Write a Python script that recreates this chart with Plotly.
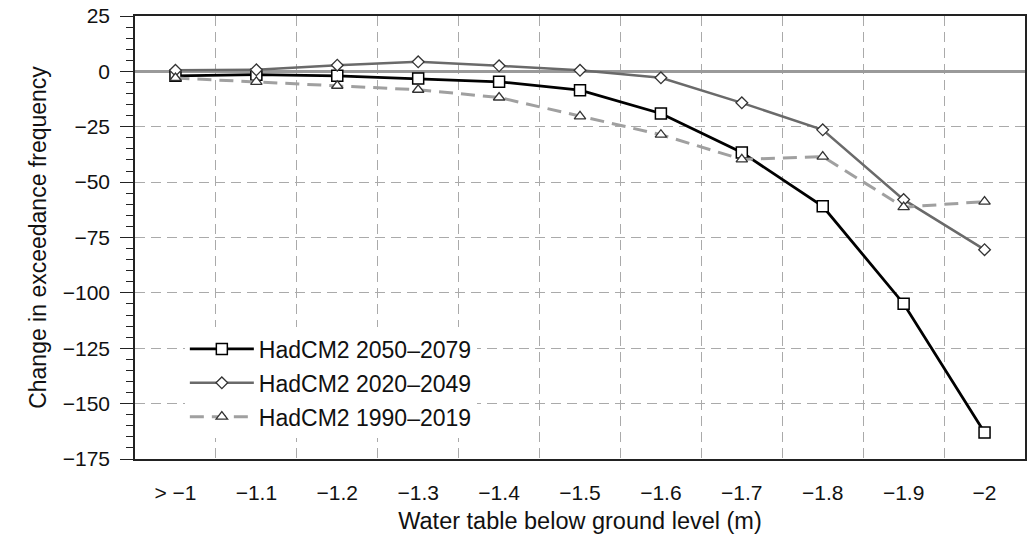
import plotly.graph_objects as go

categories = ["> \u22121", "\u22121.1", "\u22121.2", "\u22121.3", "\u22121.4", "\u22121.5",
              "\u22121.6", "\u22121.7", "\u22121.8", "\u22121.9", "\u22122"]
s2050 = [-2, -1.5, -2, -3.2, -4.7, -8.5, -19, -36.6, -60.9, -104.9, -163]
s2020 = [0.5, 0.7, 2.8, 4.3, 2.5, 0.5, -2.9, -14.2, -26.4, -57.9, -80.5]
s1990 = [-3, -4.7, -6.5, -8.3, -11.8, -20.3, -28.6, -39.7, -38.5, -61.3, -58.8]

names = ["HadCM2 2050\u20132079", "HadCM2 2020\u20132049", "HadCM2 1990\u20132019"]

xpos = list(range(len(categories)))
FONT = "Liberation Sans, Arial, Helvetica, sans-serif"

fig = go.Figure()
fig.add_trace(go.Scatter(
    x=xpos, y=s2050, name=names[0], mode="lines+markers", legendgroup="a",
    line=dict(color="#000000", width=2.8),
    marker=dict(symbol="square", size=11, color="white", line=dict(color="#000000", width=1.5)),
))
fig.add_trace(go.Scatter(
    x=xpos, y=s2020, name=names[1], mode="lines+markers", legendgroup="b",
    line=dict(color="#6a6a6a", width=2.5),
    marker=dict(symbol="diamond", size=9, color="white", line=dict(color="#333333", width=1.3)),
))
fig.add_trace(go.Scatter(
    x=xpos, y=s1990, name=names[2], mode="lines+markers", legendgroup="c",
    line=dict(color="#a0a0a0", width=3, dash="14px,8px"),
    marker=dict(symbol="triangle-up", size=10, color="white", line=dict(color="#333333", width=1.3)),
))

fig.update_layout(
    width=1031, height=536,
    margin=dict(l=135, r=4, t=15, b=77),
    paper_bgcolor="white", plot_bgcolor="white",
    font=dict(family=FONT, size=21, color="#111111"),
    showlegend=True,
    legend=dict(
        x=0.056, y=0.297, xanchor="left", yanchor="top",
        bgcolor="white", borderwidth=0,
        font=dict(family=FONT, size=23, color="#111111"),
        tracegroupgap=1, itemwidth=64,
    ),
)

fig.update_xaxes(
    range=[-0.5, len(categories) - 0.5],
    tickmode="array", tickvals=xpos, ticktext=categories,
    ticks="", showgrid=False, zeroline=False,
    showline=True, linecolor="#222222", linewidth=1.5, mirror=True,
    ticklabelstandoff=14,
    tickfont=dict(family=FONT, size=21, color="#111111"),
    title=dict(text="Water table below ground level (m)", standoff=10,
               font=dict(family=FONT, size=23.5, color="#111111")),
    minor=dict(tickmode="array", tickvals=[i + 0.5 for i in range(len(categories) - 1)],
               showgrid=True, gridcolor="#aaaaaa", gridwidth=1.3, griddash="10px,6px", ticks=""),
)

fig.update_yaxes(
    range=[-175, 25], tickmode="linear", tick0=0, dtick=25,
    ticks="outside", ticklen=13, tickwidth=1.3, tickcolor="#222222",
    showgrid=True, gridcolor="#aaaaaa", gridwidth=1.3, griddash="10px,6px",
    zeroline=True, zerolinecolor="#9a9a9a", zerolinewidth=3,
    showline=True, linecolor="#222222", linewidth=1.5, mirror=True,
    ticklabelstandoff=6,
    tickfont=dict(family=FONT, size=21, color="#111111"),
    title=dict(text="Change in exceedance frequency", standoff=10,
               font=dict(family=FONT, size=23, color="#111111")),
    minor=dict(dtick=5, ticks="outside", ticklen=7, tickwidth=1.2, tickcolor="#222222", showgrid=False),
)

fig.write_html("out.html")
